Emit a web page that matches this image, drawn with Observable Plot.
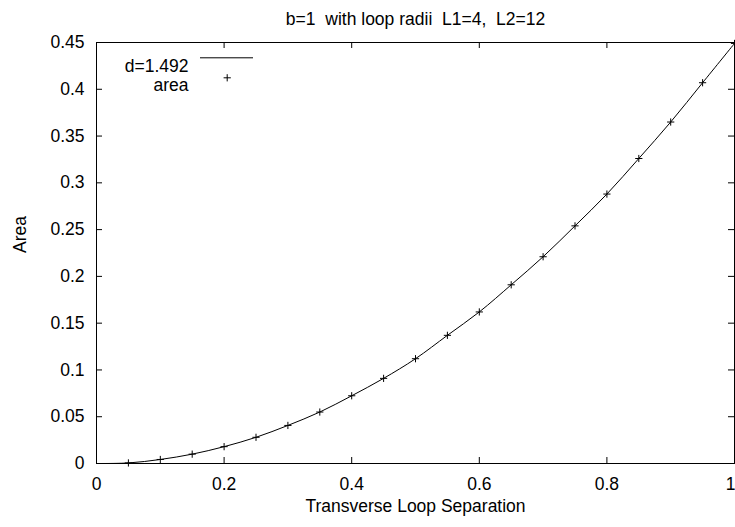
<!DOCTYPE html>
<html>
<head>
<meta charset="utf-8">
<script src="https://cdn.jsdelivr.net/npm/d3@7"></script>
<script src="https://cdn.jsdelivr.net/npm/@observablehq/plot@0.6"></script>
<style>
  html, body { margin: 0; padding: 0; background: #fff; }
  svg text { white-space: pre; }
</style>
</head>
<body>
<div id="chart"></div>
<script>
// ---- data ----
const titleText = "b=1  with loop radii  L1=4,  L2=12";
const xLabel = "Transverse Loop Separation";
const yLabel = "Area";
const fitLabel = "d=1.492";
const pointLabel = "area";

const xTicks = [0, 0.2, 0.4, 0.6, 0.8, 1];
const yTicks = [0, 0.05, 0.1, 0.15, 0.2, 0.25, 0.3, 0.35, 0.4, 0.45];

const areaX = [0.05, 0.1, 0.15, 0.2, 0.25, 0.3, 0.35, 0.4, 0.45, 0.5, 0.55, 0.6, 0.65, 0.7, 0.75, 0.8, 0.85, 0.9, 0.95, 1.0];
const areaY = [0.0006, 0.0043, 0.010, 0.018, 0.028, 0.0407, 0.055, 0.0724, 0.091, 0.112, 0.137, 0.162, 0.191, 0.221, 0.254, 0.288, 0.326, 0.365, 0.407, 0.449];

const fitX = [0, 0.05, 0.1, 0.15, 0.2, 0.25, 0.3, 0.35, 0.4, 0.45, 0.5, 0.55, 0.6, 0.65, 0.7, 0.75, 0.8, 0.85, 0.9, 0.95, 1.0];
const fitY = [0, 0.0006, 0.0043, 0.010, 0.018, 0.028, 0.0407, 0.055, 0.0724, 0.091, 0.112, 0.137, 0.162, 0.191, 0.221, 0.254, 0.288, 0.326, 0.365, 0.407, 0.449];

// ---- build ----
const points = areaX.map((x, i) => ({x, y: areaY[i]}));
const fit = fitX.map((x, i) => ({x, y: fitY[i]}));
const xTicksInner = xTicks.slice(0, -1);
const xTickLast = xTicks.slice(-1);

const W = 735, H = 527;
const mT = 42, mB = 64, mL = 96, mR = 1;
const plotW = W - mL - mR, plotH = H - mT - mB;
const tick = 6;
const FS = 17.5;

const plusSymbol = {
  draw(ctx, size) {
    const r = Math.sqrt(size / Math.PI);
    ctx.moveTo(-r, 0); ctx.lineTo(r, 0);
    ctx.moveTo(0, -r); ctx.lineTo(0, r);
  }
};

const chart = Plot.plot({
  width: W,
  height: H,
  marginTop: mT,
  marginBottom: mB,
  marginLeft: mL,
  marginRight: mR,
  style: {fontFamily: "'Liberation Sans', Arial, Helvetica, sans-serif", fontSize: FS + "px", color: "#000", background: "#fff"},
  x: {domain: [0, 1]},
  y: {domain: [0, 0.45]},
  marks: [
    // inward ticks (mirrored)
    Plot.tickX(xTicks, {x: d => d, insetTop: plotH - tick, stroke: "#000"}),
    Plot.tickX(xTicks, {x: d => d, insetBottom: plotH - tick, stroke: "#000"}),
    Plot.tickY(yTicks, {y: d => d, insetRight: plotW - tick, stroke: "#000"}),
    Plot.tickY(yTicks, {y: d => d, insetLeft: plotW - tick, stroke: "#000"}),
    Plot.axisX(xTicksInner, {tickSize: 0, tickPadding: 14, tickFormat: d => String(d), label: null, fontSize: FS}),
    Plot.axisX(xTickLast, {tickSize: 0, tickPadding: 14, tickFormat: d => String(d), label: null, fontSize: FS, textAnchor: "end", dx: 1}),
    Plot.axisY(yTicks, {tickSize: 0, tickPadding: 12, tickFormat: d => String(d), label: null, fontSize: FS}),
    Plot.frame({stroke: "#000", strokeWidth: 1}),
    // fit line and data points
    Plot.line(fit, {x: "x", y: "y", stroke: "#000", strokeWidth: 1, curve: "catmull-rom"}),
    Plot.dot(points, {x: "x", y: "y", symbol: plusSymbol, r: 3.6, stroke: "#000", strokeWidth: 1, fill: "none"}),
    // legend
    Plot.text([fitLabel], {text: d => d, frameAnchor: "top-left", dx: 92, dy: 17.4, textAnchor: "end", fontSize: FS, fill: "#000"}),
    Plot.text([pointLabel], {text: d => d, frameAnchor: "top-left", dx: 92, dy: 35.7, textAnchor: "end", fontSize: FS, fill: "#000"}),
    Plot.ruleY([0.45], {dy: 15.3, insetLeft: 104, insetRight: plotW - 157, stroke: "#000", strokeWidth: 1}),
    Plot.dot([null], {x: 0, y: 0.45, dx: 130.7, dy: 35.3, symbol: plusSymbol, r: 3.6, stroke: "#000", strokeWidth: 1, fill: "none"}),
    // title and axis labels
    Plot.text([titleText], {text: d => d, frameAnchor: "top", dy: -29.6, fontSize: FS, fill: "#000"}),
    Plot.text([xLabel], {text: d => d, frameAnchor: "bottom", dy: 48.4, fontSize: FS, fill: "#000"}),
    Plot.text([yLabel], {text: d => d, frameAnchor: "left", dx: -76.6, rotate: -90, fontSize: FS, fill: "#000"})
  ]
});

document.getElementById("chart").appendChild(chart);
</script>
</body>
</html>
